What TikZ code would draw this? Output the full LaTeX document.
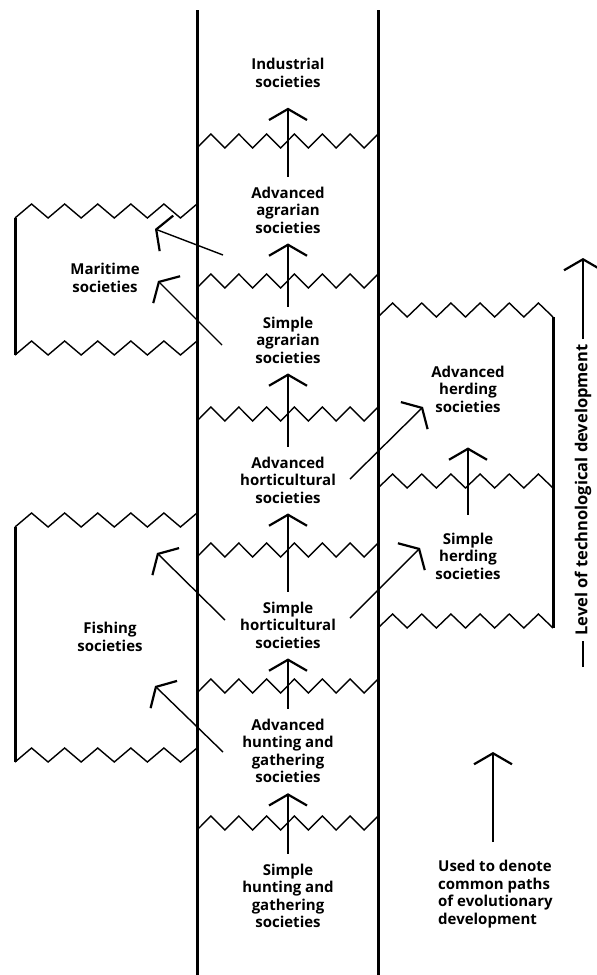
\documentclass[tikz,border=0pt]{standalone}
\usepackage{fontspec}
\setmainfont{Open Sans}
\usetikzlibrary{arrows.meta}

% one row of teeth: x from, x to, y of the low points, number of half teeth
\newcommand{\zigzagrow}[4]{%
  \pgfmathtruncatemacro\zzn{#4+1}%
  \draw[zz] plot[domain=0:#4, samples=\zzn] ({#1+\x*(#2-#1)/#4},{#3-7+7*cos(180*\x)});}

\begin{document}
\begin{tikzpicture}[
  x=1pt, y=-1pt,
  lbl/.style={font=\fontsize{15}{17.5}\selectfont\bfseries, align=center, inner sep=0pt},
  wall/.style={line width=3pt},
  zz/.style={line width=1.4pt, line join=miter},
  evo/.style={-{Straight Barb[length=11pt, width=38pt, line width=2.2pt]}, line width=1.4pt},
  rise/.style={evo, shorten <=10pt, shorten >=10pt}
]
\useasboundingbox (0,0) rectangle (597,975);

% Main line of development
\draw[wall] (197,10) -- (197,975);
\draw[wall] (378,10) -- (378,975);
\foreach \y in {148,288,421,557,693,830}
  \zigzagrow{197}{378}{\y}{13};

% Maritime box
\draw[wall] (15,218) -- (15,355);
\zigzagrow{15}{197}{218}{11}
\zigzagrow{15}{197}{355}{11}

% Fishing box
\draw[wall] (15,527) -- (15,762);
\zigzagrow{15}{197}{527}{11}
\zigzagrow{15}{197}{762}{11}

% Herding box
\draw[wall] (553,317) -- (553,628);
\zigzagrow{378}{553}{317}{12}
\zigzagrow{378}{553}{488}{12}
\zigzagrow{378}{553}{628}{12}

% Societies
\node[lbl] (indus) at (288,73) {Industrial\\societies};
\node[lbl] (advagr) at (288,210) {Advanced\\agrarian\\societies};
\node[lbl] (simpagr) at (288,340) {Simple\\agrarian\\societies};
\node[lbl] (advhort) at (288,480) {Advanced\\horticultural\\societies};
\node[lbl] (simphort) at (288,625) {Simple\\horticultural\\societies};
\node[lbl] (advhunt) at (288,751) {Advanced\\hunting and\\gathering\\societies};
\node[lbl] (simphunt) at (288,896) {Simple\\hunting and\\gathering\\societies};
\node[lbl] (maritime) at (105,278) {Maritime\\societies};
\node[lbl] (fishing) at (110,637) {Fishing\\societies};
\node[lbl] (advherd) at (468,389) {Advanced\\herding\\societies};
\node[lbl] (simpherd) at (468,556) {Simple\\herding\\societies};

% Legend and axis
\node[lbl, align=left, anchor=west] (legend) at (438,894) {Used to denote\\common paths\\of evolutionary\\development};
\node[lbl, font=\fontsize{16.5}{18}\selectfont\bfseries, rotate=90, inner sep=5pt] (level) at (583,490) {Level of technological development};

% Arrows along the main line
\draw[rise, shorten >=20pt] (advagr) -- (indus);
\draw[rise] (simpagr) -- (advagr);
\draw[rise] (advhort) -- (simpagr);
\draw[rise] (simphort) -- (advhort);
\draw[rise] (advhunt) -- (simphort);
\draw[rise] (simphunt) -- (advhunt);
\draw[rise, shorten <=18pt, shorten >=35pt] (simpherd) -- (advherd);

% Arrows to the side lines
\coordinate (agr-mar-a) at (223,255);
\coordinate (agr-mar-b) at (155,229);
\coordinate (sagr-mar-a) at (222,345);
\coordinate (sagr-mar-b) at (158,281);
\coordinate (hort-fish-a) at (225,620);
\coordinate (hort-fish-b) at (157,553);
\coordinate (hunt-fish-a) at (223,752);
\coordinate (hunt-fish-b) at (155,686);
\coordinate (hort-herd-a) at (350,479);
\coordinate (hort-herd-b) at (423,407);
\coordinate (short-herd-a) at (350,618);
\coordinate (short-herd-b) at (420,548);
\draw[evo] (agr-mar-a) -- (agr-mar-b);
\draw[evo] (sagr-mar-a) -- (sagr-mar-b);
\draw[evo] (hort-fish-a) -- (hort-fish-b);
\draw[evo] (hunt-fish-a) -- (hunt-fish-b);
\draw[evo] (hort-herd-a) -- (hort-herd-b);
\draw[evo] (short-herd-a) -- (short-herd-b);

% Legend arrow
\coordinate (legtip) at (493,752);
\draw[evo, shorten <=18pt] (legend.north -| legtip) -- (legtip);

% Axis arrow
\coordinate (lvltop) at (583,258);
\coordinate (lvlbot) at (583,667);
\draw[line width=1.4pt] (lvlbot) -- (level.west);
\draw[evo] (level.east) -- (lvltop);

\end{tikzpicture}
\end{document}
